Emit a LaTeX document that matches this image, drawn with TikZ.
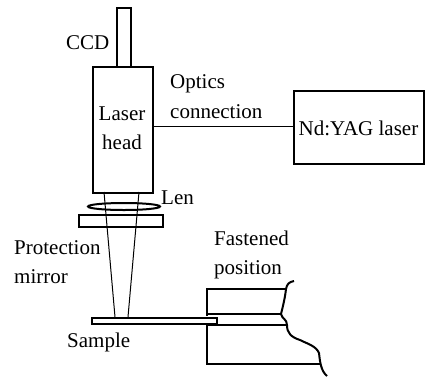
\documentclass[tikz,border=0pt]{standalone}
\usetikzlibrary{shapes.geometric}
\usepackage{fontspec}
\setmainfont{Liberation Serif}
\tikzset{
  box/.style={draw,line width=2pt,fill=white,inner sep=0pt,anchor=north west},
  thin line/.style={line width=1pt},
  thick line/.style={line width=2pt},
  lbl/.style={inner sep=0pt,font=\fontsize{21}{24}\selectfont,align=left},
}
\begin{document}
\begin{tikzpicture}[x=1pt,y=-1pt]
\useasboundingbox (0,0) rectangle (429,376);
\node[box,minimum width=14pt,minimum height=59pt] (ccd) at (115.5,7) {};
\node[box,minimum width=60pt,minimum height=126pt] (head) at (92,66) {};
\node[box,minimum width=130pt,minimum height=73pt] (laser) at (293,90) {};
\draw[thin line] (head.east |- 0,126) coordinate (c1) -- (laser.west |- 0,126) coordinate (c2);
\coordinate (bl) at (104,192); \coordinate (br) at (139,192);
\coordinate (sl) at (115,317); \coordinate (sr) at (128,317);
\node[box,minimum width=84pt,minimum height=12pt] (mirror) at (78,214) {};
\node[draw,ellipse,line width=2pt,minimum width=72pt,minimum height=7pt,inner sep=0pt] (lens) at (124,206.5) {};
\draw[thin line] (bl) -- (sl) (br) -- (sr);
\draw[thick line] (207,316) -- (207,289) -- (286,289);
\draw[thick line] (207,314) -- (281,314);
\draw[thick line] (207,325) -- (287,325);
\draw[thick line] (207,323) -- (207,364) -- (320,364);
\node[box,minimum width=125pt,minimum height=6pt] (sample) at (91,317) {};
\draw[thick line] (294,281) .. controls (289,282) and (287,284) .. (286,289)
  .. controls (285,298) and (283,306) .. (281,314)
  .. controls (282,319) and (287,319) .. (287,325)
  .. controls (287,333) and (291,337) .. (300,340)
  .. controls (308,344) and (316,346) .. (319,353)
  .. controls (320,362) and (321,371) .. (327,376);
\node[lbl,anchor=base west] (t1) at (66,49) {CCD};
\node[lbl,anchor=base,align=center] (t2) at (122,120) {Laser};
\node[lbl,anchor=base,align=center] (t3) at (122,149) {head};
\node[lbl,anchor=base west] (t4) at (170,88) {Optics};
\node[lbl,anchor=base west] (t5) at (170,118) {connection};
\node[lbl,anchor=base,align=center] (t6) at (358.5,135) {Nd:YAG laser};
\node[lbl,anchor=base west] (t7) at (161,204) {Len};
\node[lbl,anchor=base west] (t8) at (14,254) {Protection};
\node[lbl,anchor=base west] (t9) at (14,283) {mirror};
\node[lbl,anchor=base west] (t10) at (67,347) {Sample};
\node[lbl,anchor=base west] (t11) at (214,245) {Fastened};
\node[lbl,anchor=base west] (t12) at (214,274) {position};
\end{tikzpicture}
\end{document}
